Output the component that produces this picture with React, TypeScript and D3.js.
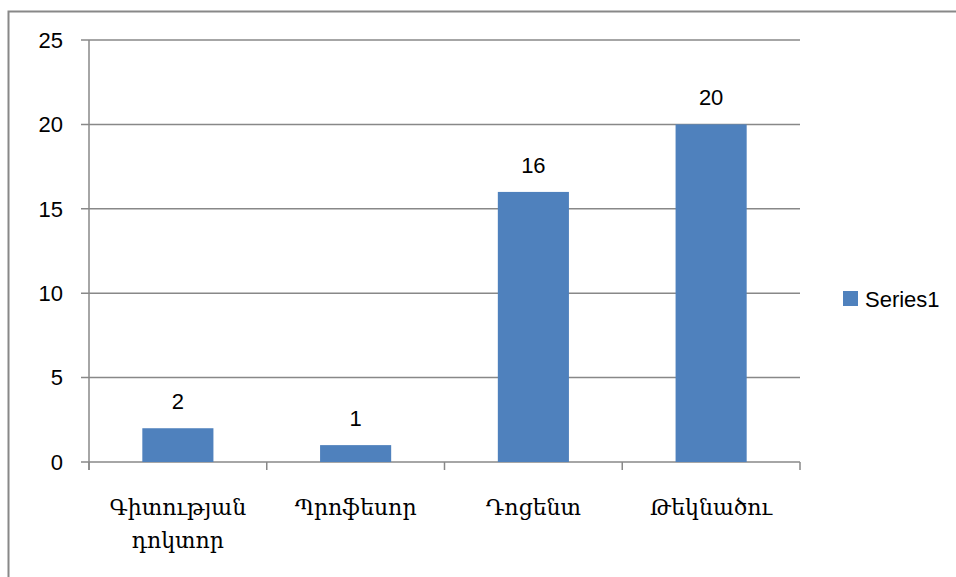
import React from "react";
import * as d3 from "d3";

const categories: string[][] = [["Գիտության", "դոկտոր"], ["Պրոֆեսոր"], ["Դոցենտ"], ["Թեկնածու"]];
const values: number[] = [2, 1, 16, 20];
const yTicks: number[] = [0, 5, 10, 15, 20, 25];
const seriesName = "Series1";

const W = 956, H = 577;
const plot = { left: 89, right: 800, top: 40, bottom: 462 };
const sansFont = "'Liberation Sans', Arial, sans-serif";
const serifFont = "'DejaVu Serif', 'Noto Serif', serif";
const barColor = "#4F81BD";
const gridColor = "#888888";

export default function App() {
  const x = d3.scaleBand<number>().domain(d3.range(values.length)).range([plot.left, plot.right]).paddingInner(0.6).paddingOuter(0.3);
  const xOuter = d3.scaleBand<number>().domain(d3.range(values.length)).range([plot.left, plot.right]);
  const y = d3.scaleLinear().domain([0, 25]).range([plot.bottom, plot.top]);
  const bounds = d3.range(values.length + 1).map((i) => plot.left + i * xOuter.step());

  return (
    <svg width={W} height={H} style={{ position: "absolute", left: 0, top: 0, background: "#fff" }}>
      <rect x={8.5} y={11.5} width={1000} height={1000} fill="#fff" stroke={gridColor} strokeWidth={2} />
      {yTicks.map((t) => (
        <g key={t}>
          <line x1={plot.left - 8} x2={plot.right} y1={y(t)} y2={y(t)} stroke={gridColor} strokeWidth={1.5} />
          <text x={63} y={y(t)} dy="0.35em" textAnchor="end" fontFamily={sansFont} fontSize={22} fill="#000">{t}</text>
        </g>
      ))}
      <line x1={plot.left} x2={plot.left} y1={plot.top} y2={plot.bottom + 8} stroke={gridColor} strokeWidth={1.5} />
      {bounds.map((b, i) => (
        <line key={i} x1={b} x2={b} y1={plot.bottom} y2={plot.bottom + 8} stroke={gridColor} strokeWidth={1.5} />
      ))}
      {values.map((v, i) => (
        <g key={i}>
          <rect x={x(i)} y={y(v)} width={x.bandwidth()} height={y(0) - y(v)} fill={barColor} />
          <text x={(x(i) as number) + x.bandwidth() / 2} y={y(v) - 19} textAnchor="middle" fontFamily={sansFont} fontSize={22} fill="#000">{v}</text>
        </g>
      ))}
      {categories.map((lines, i) => (
        <text key={i} textAnchor="middle" fontFamily={serifFont} fontSize={22} fill="#000">
          {lines.map((l, j) => (
            <tspan key={j} x={(xOuter(i) as number) + xOuter.step() / 2} y={515 + j * 33}>{l}</tspan>
          ))}
        </text>
      ))}
      <rect x={843} y={291} width={15} height={15} fill={barColor} />
      <text x={865} y={299} dy="0.35em" fontFamily={sansFont} fontSize={22} fill="#000">{seriesName}</text>
    </svg>
  );
}
